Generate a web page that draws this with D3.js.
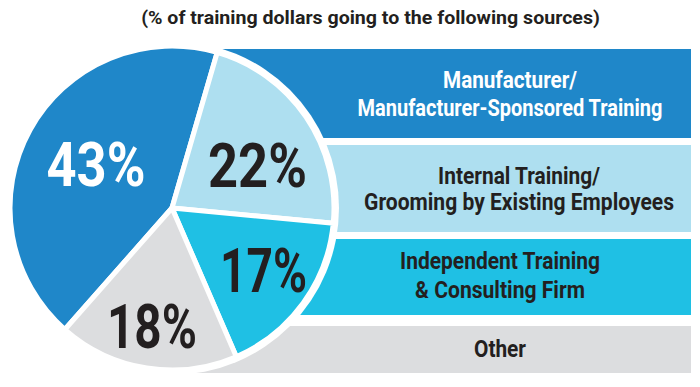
<!DOCTYPE html>
<html lang="en">
<head>
<meta charset="UTF-8">
<script src="https://d3js.org/d3.v7.min.js"></script>
<style>
  body { margin: 0; background: #fff; }
  svg text { font-family: Roboto, "Liberation Sans", sans-serif; font-weight: bold; }
</style>
</head>
<body>
<div id="chart"></div>
<script>
  // data
  const categories = [
    ["Manufacturer/", "Manufacturer-Sponsored Training"],
    ["Internal Training/", "Grooming by Existing Employees"],
    ["Independent Training", "& Consulting Firm"],
    ["Other"]
  ];
  const shares = [43, 22, 17, 18];
  const title = "(% of training dollars going to the following sources)";

  const colors = ["#1f87c9", "#aedff0", "#1fc0e4", "#dcdddf"];
  const textColors = ["#ffffff", "#231f20", "#231f20", "#231f20"];

  // layout of the stripes (y top/bottom) and label anchors
  const rows = [
    { y0: 49, y1: 138, cx: 510, lines: [88, 116], widths: [134, 305] },
    { y0: 145, y1: 232, cx: 519, lines: [184, 210], widths: [162, 310] },
    { y0: 239, y1: 315, cx: 500, lines: [269, 298], widths: [200, 170] },
    { y0: 326, y1: 373, cx: 500, lines: [357], widths: [52] }
  ];
  const pctPos = [
    { x: 96, y: 186, w: 99 },
    { x: 257.5, y: 187, w: 99 },
    { x: 263.5, y: 292, w: 87 },
    { x: 152, y: 348, w: 90 }
  ];

  const W = 700, H = 387;
  const cx = 172, cy = 208, r = 162;

  const svg = d3.select("#chart").append("svg")
      .attr("width", W).attr("height", H);

  // condensed text: draw, measure, squeeze horizontally to the wanted width
  function squeezed(parent, x, y, w, size, fill, str) {
    const g = parent.append("g");
    const t = g.append("text")
       .attr("text-anchor", "middle")
       .attr("font-size", size)
       .attr("fill", fill)
       .text(str);
    const sx = w / t.node().getComputedTextLength();
    g.attr("transform", `translate(${x},${y}) scale(${sx},1)`);
    return t;
  }

  squeezed(svg, 370.5, 24, 459, 18.5, "#231f20", title);

  // stripes
  svg.selectAll("rect.bar")
     .data(rows)
     .enter().append("rect")
     .attr("class", "bar")
     .attr("x", cx)
     .attr("y", d => d.y0)
     .attr("width", 691 - cx)
     .attr("height", d => d.y1 - d.y0)
     .attr("fill", (d, i) => colors[i]);

  rows.forEach((row, i) => {
    categories[i].forEach((line, j) => {
      squeezed(svg, row.cx, row.lines[j], row.widths[j], 23, textColors[i], line);
    });
  });

  // pie
  const g = svg.append("g").attr("transform", `translate(${cx},${cy})`);
  g.append("circle").attr("r", r + 5).attr("fill", "#fff");

  const startDeg = -138.6;
  const pie = d3.pie().sort(null).value(d => d)
      .startAngle(startDeg * Math.PI / 180)
      .endAngle((startDeg + 360) * Math.PI / 180);
  const arc = d3.arc().innerRadius(0).outerRadius(r);

  g.selectAll("path")
   .data(pie(shares))
   .enter().append("path")
   .attr("d", arc)
   .attr("fill", (d, i) => colors[i])
   .attr("stroke", "#fff")
   .attr("stroke-width", 5)
   .attr("stroke-linejoin", "round");

  shares.forEach((v, i) => {
    squeezed(svg, pctPos[i].x, pctPos[i].y, pctPos[i].w, 62, textColors[i], v + "%");
  });
</script>
</body>
</html>
